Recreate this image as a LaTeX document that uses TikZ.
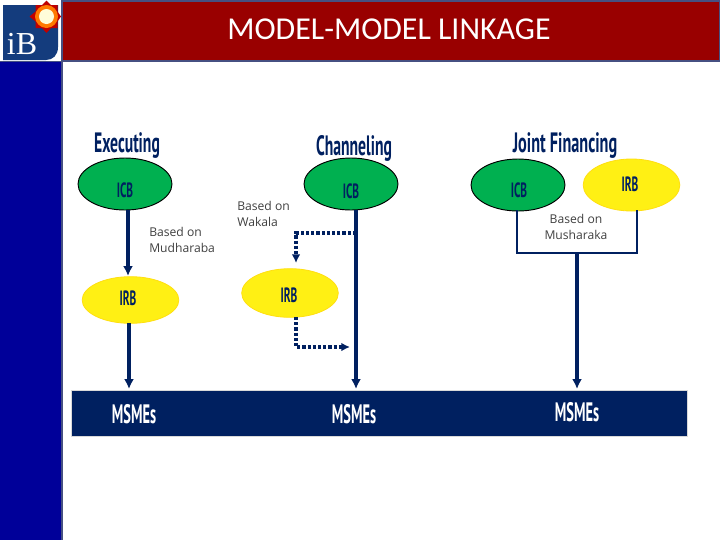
\documentclass[tikz,border=0pt]{standalone}
\usepackage{fontspec}
\setmainfont{Carlito}
\newfontfamily\headfont{PT Sans}[BoldFont={PT Sans Bold}]
\newfontfamily\bodyfont{Open Sans}
\newfontfamily\logofont{Liberation Serif}
\usetikzlibrary{arrows.meta,calc,shapes.geometric}
\definecolor{barred}{RGB}{153,0,0}
\definecolor{sideblue}{RGB}{0,0,153}
\definecolor{edgeblue}{RGB}{70,80,130}
\definecolor{navy}{RGB}{0,32,96}
\definecolor{logoblue}{RGB}{20,60,125}
\definecolor{icbgreen}{RGB}{0,176,80}
\definecolor{irbyellow}{RGB}{255,240,20}
\newcommand{\cond}[2]{\scalebox{#1}[1]{\headfont\bfseries #2}}
\tikzset{
  x=0.75pt,y=-0.75pt,
  icb/.style={ellipse,draw=black,line width=0.7pt,fill=icbgreen,inner sep=0pt,minimum width=70.5pt,minimum height=39pt},
  irb/.style={ellipse,draw=irbyellow!85!orange,line width=0.6pt,fill=irbyellow,inner sep=0pt,minimum width=72.5pt,minimum height=35pt},
  headlabel/.style={text=navy,font=\fontsize{21}{24}\selectfont,inner sep=0pt},
  ovallabel/.style={text=navy,font=\fontsize{15.5}{18}\selectfont,inner sep=0pt},
  basedon/.style={text=black!75,font=\bodyfont\fontsize{9.1}{12.2}\selectfont,inner sep=0pt},
  msme/.style={text=white,font=\fontsize{20}{23}\selectfont,inner sep=0pt},
  solidthick/.style={draw=navy,line width=2.6pt,-{Latex[length=7.5pt,width=7.5pt]}},
  thinline/.style={draw=navy,line width=1.7pt},
  dotline/.style={draw=navy,line width=2.3pt,dash pattern=on 2.4pt off 1.5pt,-{Latex[length=6.5pt,width=6.5pt]}},
}
\begin{document}
\begin{tikzpicture}
\useasboundingbox (0,0) rectangle (720,540);
\fill[white] (0,0) rectangle (720,540);
% frame
\fill[barred] (62,0) rectangle (720,61);
\draw[edgeblue,line width=1pt] (62,1) -- (719.5,1) -- (719.5,61) -- (62,61);
\fill[sideblue] (0,62) rectangle (62,540);
\draw[edgeblue,line width=1.2pt] (0,61.5) -- (62,61.5);
\draw[edgeblue,line width=1.2pt] (62,0) -- (62,540);
\node[text=white,font=\fontsize{23.9}{28}\selectfont,inner sep=0pt] (title) at (389,29) {MODEL-MODEL LINKAGE};
% logo
\fill[logoblue] (3,5) -- (58,5) -- (58,47) .. controls (58,55) and (53,60) .. (46,60) -- (3,60) -- cycle;
\fill[red!75!black] (46.5,0.5) -- (51,5) -- (57.5,5) -- (57.5,11.5) -- (61,16.5) -- (57.5,21.5) -- (57.5,28) -- (51,28) -- (46.5,33) -- (42,28) -- (35.5,28) -- (35.5,21.5) -- (29.5,16.5) -- (35.5,11.5) -- (35.5,5) -- (42,5) -- cycle;
\fill[orange!95!red] (46.5,16.5) circle[radius=11.5];
\fill[yellow!15] (46.5,16.5) circle[radius=7.5];
\node[text=white,font=\logofont\fontsize{24}{26}\selectfont,inner sep=0pt] (logotext) at (22,44) {iB};
% headings
\node[headlabel] (h1) at (127,146) {\cond{0.56}{Executing}};
\node[headlabel] (h2) at (354,148) {\cond{0.56}{Channeling}};
\node[headlabel] (h3) at (565,146) {\cond{0.58}{Joint Financing}};
% MSME bar
\fill[navy] (71,390) rectangle (687,436);
\draw[black!15,line width=0.5pt] (71,390) rectangle (687,436);
\node[msme] (m1) at (134,414) {\cond{0.54}{MSMEs}};
\node[msme] (m2) at (354,414) {\cond{0.54}{MSMEs}};
\node[msme] (m3) at (577,412) {\cond{0.54}{MSMEs}};
\coordinate (a1) at (129,389);
\coordinate (a2) at (356,389);
\coordinate (a3) at (577,389);
% ovals
\node[icb] (icbA) at (125,184) {};
\node[ovallabel] at (125,190) {\cond{0.55}{ICB}};
\node[irb] (irbA) at (130.5,300) {};
\node[ovallabel] at (128,298) {\cond{0.55}{IRB}};
\node[icb] (icbB) at (351,184) {};
\node[ovallabel] at (351,191) {\cond{0.55}{ICB}};
\node[irb,minimum height=36.5pt] (irbB) at (290,293) {};
\node[ovallabel] at (289,295) {\cond{0.55}{IRB}};
\node[icb] (icbC) at (518,185) {};
\node[ovallabel] at (519,190) {\cond{0.55}{ICB}};
\node[irb,minimum height=39pt] (irbC) at (631.5,185) {};
\node[ovallabel] at (630,184) {\cond{0.55}{IRB}};
% labels
\node[basedon,align=left,anchor=west] (l1) at (149,240) {Based on\\Mudharaba};
\node[basedon,align=left,anchor=west] (l2) at (237,214) {Based on\\Wakala};
\node[basedon,align=center] (l3) at (576,227) {Based on\\Musharaka};
% connectors
\coordinate (a0) at (128,276);
\draw[solidthick] (128,210) -- (a0);
\draw[solidthick] (129,323) -- (a1);
\draw[solidthick] (356,210) -- (a2);
\coordinate (bj) at (577,253);
\draw[thinline] (517,210) |- (bj) -| (637,210);
\draw[solidthick] (bj) -- (a3);
\coordinate (d1) at (356,233);
\coordinate (d2) at (296,263);
\coordinate (d3) at (296,317);
\coordinate (d4) at (350,347);
\draw[dotline] (d1) -| (d2);
\draw[dotline] (d3) |- (d4);
\end{tikzpicture}
\end{document}
